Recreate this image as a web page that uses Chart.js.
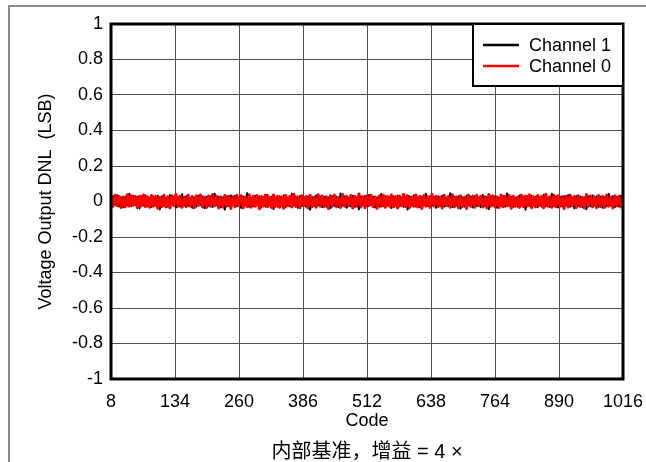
<!DOCTYPE html>
<html>
<head>
<meta charset="utf-8">
<script src="https://cdn.jsdelivr.net/npm/chart.js@4"></script>
<style>
    html, body { margin: 0; padding: 0; background: #fff; }
    #wrap { width: 646px; height: 462px; }
</style>
</head>
<body>
<div id="wrap"><canvas id="dnlChart" width="646" height="462"></canvas></div>
<script>
// Code axis: every 4th code from 8 to 1016
const codeFirst = 8;
const codeStep = 4;
const xTicks = [8, 134, 260, 386, 512, 638, 764, 890, 1016];
const yTicks = [-1, -0.8, -0.6, -0.4, -0.2, 0, 0.2, 0.4, 0.6, 0.8, 1];
const yTickLabels = ['-1', '-0.8', '-0.6', '-0.4', '-0.2', '0', '0.2', '0.4', '0.6', '0.8', '1'];
const seriesNames = ['Channel 1', 'Channel 0'];
const seriesColors = ['#000000', '#ff0000'];

// DNL in LSB (noise band roughly +/-0.04 LSB)
const ch1Dnl = [
    -0.024, 0.030, -0.019, 0.035, -0.028, 0.022, -0.033, 0.027, -0.021, 0.043, -0.026, 0.031, -0.018, 0.025, -0.039, 0.029, -0.023, 0.034, -0.027, 0.020,
    -0.031, 0.026, -0.022, 0.033, -0.044, 0.028, -0.025, 0.021, -0.030, 0.036, -0.019, 0.027, -0.034, 0.024, -0.028, 0.041, -0.022, 0.030, -0.026, 0.019,
    -0.035, 0.023, -0.029, 0.032, -0.020, 0.028, -0.037, 0.025, -0.024, 0.030, -0.031, 0.044, -0.021, 0.027, -0.033, 0.022, -0.045, 0.029, -0.025, 0.034,
    -0.020, 0.031, -0.027, 0.024, -0.036, 0.028, -0.022, 0.046, -0.030, 0.021, -0.026, 0.033, -0.019, 0.029, -0.034, 0.025, -0.028, 0.037, -0.023, 0.027,
    -0.042, 0.022, -0.029, 0.030, -0.024, 0.035, -0.031, 0.020, -0.027, 0.043, -0.022, 0.026, -0.036, 0.031, -0.025, 0.023, -0.030, 0.028, -0.046, 0.024,
    -0.026, 0.034, -0.021, 0.029, -0.033, 0.025, -0.028, 0.022, -0.038, 0.030, -0.024, 0.027, -0.031, 0.045, -0.023, 0.028, -0.035, 0.021, -0.027, 0.032,
    -0.030, 0.024, -0.044, 0.029, -0.022, 0.031, -0.026, 0.036, -0.020, 0.027, -0.034, 0.023, -0.029, 0.042, -0.025, 0.030, -0.021, 0.026, -0.037, 0.028,
    -0.023, 0.033, -0.027, 0.021, -0.031, 0.025, -0.045, 0.029, -0.024, 0.035, -0.028, 0.022, -0.033, 0.027, -0.020, 0.044, -0.026, 0.030, -0.022, 0.025,
    -0.036, 0.028, -0.024, 0.032, -0.029, 0.021, -0.027, 0.047, -0.031, 0.026, -0.023, 0.030, -0.040, 0.024, -0.028, 0.033, -0.021, 0.027, -0.034, 0.029,
    -0.025, 0.022, -0.032, 0.036, -0.027, 0.025, -0.043, 0.030, -0.022, 0.028, -0.035, 0.023, -0.026, 0.031, -0.029, 0.045, -0.024, 0.027, -0.030, 0.021,
    -0.028, 0.034, -0.023, 0.026, -0.046, 0.029, -0.025, 0.032, -0.021, 0.027, -0.033, 0.024, -0.029, 0.038, -0.026, 0.022, -0.031, 0.043, -0.024, 0.028,
    -0.034, 0.025, -0.027, 0.030, -0.022, 0.035, -0.029, 0.023, -0.038, 0.031, -0.025, 0.027, -0.032, 0.021, -0.044, 0.029, -0.026, 0.034, -0.023, 0.028,
    -0.030, 0.026, -0.035, 0.024, -0.027, 0.042, -0.022, 0.029, -0.031, 0.025, -0.028, 0.033, -0.021
];
const ch0Dnl = [
    0.031, -0.027, 0.036, -0.022, 0.029, -0.034, 0.025, -0.030, 0.038, -0.026, 0.033, -0.021, 0.028, -0.035, 0.030, -0.024, 0.037, -0.029, 0.026, -0.032,
    0.034, -0.025, 0.029, -0.038, 0.023, -0.028, 0.035, -0.031, 0.027, -0.036, 0.032, -0.023, 0.039, -0.027, 0.030, -0.033, 0.024, -0.029, 0.036, -0.026,
    0.028, -0.035, 0.033, -0.022, 0.037, -0.030, 0.025, -0.034, 0.031, -0.027, 0.040, -0.024, 0.029, -0.037, 0.026, -0.031, 0.034, -0.025, 0.030, -0.039,
    0.027, -0.029, 0.035, -0.023, 0.032, -0.036, 0.024, -0.028, 0.038, -0.032, 0.029, -0.026, 0.033, -0.041, 0.028, -0.025, 0.036, -0.030, 0.023, -0.034,
    0.037, -0.027, 0.030, -0.033, 0.025, -0.038, 0.034, -0.024, 0.029, -0.031, 0.041, -0.028, 0.026, -0.035, 0.032, -0.023, 0.028, -0.036, 0.035, -0.029,
    0.024, -0.032, 0.038, -0.026, 0.031, -0.028, 0.027, -0.040, 0.033, -0.025, 0.036, -0.030, 0.022, -0.034, 0.039, -0.027, 0.030, -0.024, 0.034, -0.037,
    0.029, -0.026, 0.042, -0.031, 0.027, -0.035, 0.032, -0.023, 0.036, -0.029, 0.025, -0.038, 0.031, -0.027, 0.035, -0.032, 0.028, -0.025, 0.037, -0.030,
    0.026, -0.036, 0.031, -0.024, 0.039, -0.028, 0.033, -0.034, 0.024, -0.027, 0.037, -0.031, 0.029, -0.039, 0.034, -0.026, 0.027, -0.033, 0.040, -0.025,
    0.030, -0.029, 0.025, -0.037, 0.035, -0.024, 0.028, -0.032, 0.038, -0.030, 0.026, -0.035, 0.033, -0.028, 0.024, -0.040, 0.036, -0.027, 0.031, -0.033,
    0.035, -0.023, 0.029, -0.031, 0.027, -0.037, 0.040, -0.026, 0.032, -0.029, 0.025, -0.034, 0.037, -0.030, 0.028, -0.024, 0.034, -0.038, 0.030, -0.027,
    0.023, -0.033, 0.036, -0.028, 0.031, -0.025, 0.038, -0.035, 0.026, -0.030, 0.034, -0.022, 0.029, -0.036, 0.041, -0.027, 0.025, -0.032, 0.035, -0.029,
    0.032, -0.026, 0.027, -0.039, 0.030, -0.031, 0.036, -0.024, 0.028, -0.034, 0.033, -0.028, 0.024, -0.037, 0.039, -0.025, 0.031, -0.030, 0.026, -0.035,
    0.034, -0.028, 0.029, -0.033, 0.037, -0.026, 0.025, -0.036, 0.032, -0.024, 0.030, -0.031, 0.027
];

const FONT = "'Liberation Sans', Arial, 'Noto Sans CJK SC', sans-serif";

function toPoints(values) {
    return values.map((v, i) => ({ x: codeFirst + i * codeStep, y: v }));
}

// page frame, plot border and the boxed legend
const framePlugin = {
    id: 'frame',
    beforeDraw(chart) {
        const ctx = chart.ctx;
        ctx.save();
        ctx.fillStyle = '#fff';
        ctx.fillRect(0, 0, chart.width, chart.height);
        ctx.strokeStyle = '#8a8a8a';
        ctx.lineWidth = 2;
        ctx.beginPath();
        ctx.moveTo(8, 6);
        ctx.lineTo(chart.width, 6);
        ctx.moveTo(9, 6);
        ctx.lineTo(9, chart.height);
        ctx.stroke();
        ctx.restore();
    },
    afterDraw(chart) {
        const ctx = chart.ctx;
        const a = chart.chartArea;
        ctx.save();
        ctx.strokeStyle = '#000';
        ctx.lineWidth = 3;
        ctx.strokeRect(a.left, a.top, a.right - a.left, a.bottom - a.top);

        // legend
        const boxW = 150, boxH = 62;
        const bx = a.right - boxW, by = a.top;
        ctx.fillStyle = '#fff';
        ctx.fillRect(bx, by, boxW, boxH);
        ctx.lineWidth = 2;
        ctx.strokeRect(bx, by, boxW, boxH);
        ctx.font = '18px ' + FONT;
        ctx.textBaseline = 'middle';
        ctx.textAlign = 'left';
        seriesNames.forEach((name, i) => {
            const y = by + 21 + i * 21;
            ctx.strokeStyle = seriesColors[i];
            ctx.lineWidth = 2.5;
            ctx.beginPath();
            ctx.moveTo(bx + 10, y);
            ctx.lineTo(bx + 46, y);
            ctx.stroke();
            ctx.fillStyle = '#000';
            ctx.fillText(name, bx + 56, y + 1);
        });
        ctx.restore();
    }
};

document.addEventListener('DOMContentLoaded', function() {
    const ctx = document.getElementById('dnlChart').getContext('2d');

    new Chart(ctx, {
        type: 'line',
        data: {
            datasets: [{
                label: seriesNames[0],
                data: toPoints(ch1Dnl),
                borderColor: seriesColors[0],
                borderWidth: 2,
                borderJoinStyle: 'round',
                pointRadius: 0,
                tension: 0,
                order: 1
            }, {
                label: seriesNames[1],
                data: toPoints(ch0Dnl),
                borderColor: seriesColors[1],
                borderWidth: 3,
                borderJoinStyle: 'round',
                pointRadius: 0,
                tension: 0,
                order: 0
            }]
        },
        options: {
            responsive: false,
            animation: false,
            events: [],
            layout: {
                padding: { top: 24, right: 23, bottom: 0, left: 0 }
            },
            plugins: {
                legend: { display: false },
                tooltip: { enabled: false },
                title: {
                    display: true,
                    position: 'bottom',
                    fullSize: false,
                    text: '内部基准，增益 = 4 ×',
                    color: '#000',
                    font: { family: FONT, size: 20, weight: 'normal', lineHeight: 1 },
                    padding: { top: 10, bottom: 0 }
                }
            },
            scales: {
                x: {
                    type: 'linear',
                    min: 8,
                    max: 1016,
                    afterBuildTicks: scale => { scale.ticks = xTicks.map(v => ({ value: v })); },
                    afterFit: scale => {
                        scale.height = 53;
                        scale.paddingLeft = 0;
                        scale.paddingRight = 0;
                    },
                    grid: { color: '#505050', lineWidth: 1, drawTicks: false },
                    border: { display: false },
                    ticks: {
                        color: '#000',
                        font: { family: FONT, size: 18 },
                        padding: 12,
                        maxRotation: 0,
                        callback: v => String(v)
                    },
                    title: {
                        display: true,
                        text: 'Code',
                        color: '#000',
                        font: { family: FONT, size: 18 },
                        padding: { top: 0, bottom: 0 }
                    }
                },
                y: {
                    min: -1,
                    max: 1,
                    afterBuildTicks: scale => { scale.ticks = yTicks.map(v => ({ value: v })); },
                    afterFit: scale => {
                        scale.width = 111;
                        scale.paddingTop = 0;
                        scale.paddingBottom = 0;
                    },
                    grid: { color: '#505050', lineWidth: 1, drawTicks: false },
                    border: { display: false },
                    ticks: {
                        color: '#000',
                        font: { family: FONT, size: 18 },
                        padding: 8,
                        callback: v => yTickLabels[yTicks.indexOf(v)]
                    },
                    title: {
                        display: true,
                        text: 'Voltage Output DNL  (LSB)',
                        color: '#000',
                        font: { family: FONT, size: 18 },
                        padding: { top: 35, bottom: 0 }
                    }
                }
            }
        },
        plugins: [framePlugin]
    });
});
</script>
</body>
</html>
